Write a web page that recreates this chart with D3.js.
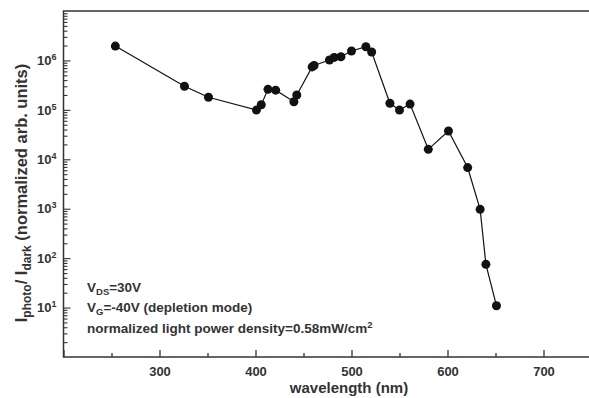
<!DOCTYPE html>
<html>
<head>
<meta charset="utf-8">
<script src="https://cdn.jsdelivr.net/npm/d3@7"></script>
<style>
  body { margin: 0; background: #fff; }
  svg { display: block; font-family: "Liberation Sans", Arial, sans-serif; }
</style>
</head>
<body>
<svg id="chart" width="589" height="398"></svg>
<script>
// wavelength (nm) and normalized photo/dark current ratio
const wavelength = [254, 326, 351, 401, 406, 413, 421, 440, 443, 459, 461, 477, 482, 489, 500, 515, 521, 540, 550, 561, 580, 601, 621, 634, 640, 651];
const ratio = [1.95e6, 3.0e5, 1.8e5, 9.9e4, 1.27e5, 2.6e5, 2.5e5, 1.46e5, 2.0e5, 7.4e5, 7.9e5, 1.02e6, 1.15e6, 1.19e6, 1.55e6, 1.89e6, 1.48e6, 1.36e5, 9.9e4, 1.31e5, 1.59e4, 3.73e4, 6.8e3, 970, 75, 10.9];

const xMajor = [200, 300, 400, 500, 600, 700, 800];
const xMinor = [250, 350, 450, 550, 650, 750];
const xLabels = [300, 400, 500, 600, 700];
const yMajor = [1e1, 1e2, 1e3, 1e4, 1e5, 1e6];
const yLabels = ["1", "2", "3", "4", "5", "6"];

const ink = "#333";
const mLeft = 63.5, mTop = 11, mRight = 639.5, mBottom = 357;

const svg = d3.select("#chart");

const x = d3.scaleLinear().domain([200, 800]).range([mLeft, mRight]);
const y = d3.scaleLog().domain([1, 1e7]).range([mBottom, mTop]);

// minor log ticks 2..9 for each decade
const yMinor = [];
for (let e = 0; e < 7; e++) {
  for (let m = 2; m <= 9; m++) yMinor.push(m * Math.pow(10, e));
}

// frame (right side runs off the picture)
svg.append("rect")
  .attr("x", mLeft).attr("y", mTop)
  .attr("width", mRight - mLeft).attr("height", mBottom - mTop)
  .attr("fill", "none").attr("stroke", ink).attr("stroke-width", 1.5);

// x axis
const xg = svg.append("g").attr("transform", `translate(0,${mBottom})`);
xg.call(d3.axisBottom(x).tickValues(xMinor).tickSize(-4).tickFormat(""));
xg.append("g").call(d3.axisBottom(x).tickValues(xMajor).tickSize(-7).tickPadding(10)
  .tickFormat((d) => (xLabels.includes(d) ? d : "")));
xg.selectAll(".domain").remove();
xg.selectAll("line").attr("stroke", ink).attr("stroke-width", 1.3);
xg.selectAll("text")
  .attr("fill", ink).attr("font-size", 13).attr("font-weight", "bold")
  .attr("font-family", "Liberation Sans, Arial, sans-serif");

// y axis
const yg = svg.append("g").attr("transform", `translate(${mLeft},0)`);
yg.call(d3.axisLeft(y).tickValues(yMinor).tickSize(-4).tickFormat(""));
const ygMaj = yg.append("g");
ygMaj.call(d3.axisLeft(y).tickValues(yMajor).tickSize(-7).tickPadding(7).tickFormat(""));
yg.selectAll(".domain").remove();
yg.selectAll("line").attr("stroke", ink).attr("stroke-width", 1.1);

ygMaj.selectAll(".tick").each(function (d, i) {
  const t = d3.select(this).select("text")
    .attr("fill", ink).attr("font-size", 13).attr("font-weight", "bold")
    .attr("font-family", "Liberation Sans, Arial, sans-serif");
  t.append("tspan").text("10");
  t.append("tspan").attr("dy", -5).attr("font-size", 9).text(yLabels[i]);
});

// line and markers
const line = d3.line().x((d, i) => x(wavelength[i])).y((d) => y(d));
svg.append("path")
  .datum(ratio)
  .attr("d", line)
  .attr("fill", "none").attr("stroke", "#111").attr("stroke-width", 1.2);

svg.selectAll(".pt")
  .data(ratio)
  .enter()
  .append("circle")
  .classed("pt", true)
  .attr("cx", (d, i) => x(wavelength[i]))
  .attr("cy", (d) => y(d))
  .attr("r", 4.5)
  .attr("fill", "#111");

// axis titles
svg.append("text")
  .attr("x", 349).attr("y", 393)
  .attr("text-anchor", "middle")
  .attr("font-size", 15).attr("font-weight", "bold").attr("fill", ink)
  .text("wavelength (nm)");

const yt = svg.append("text")
  .attr("transform", "translate(27,193) rotate(-90)")
  .attr("text-anchor", "middle")
  .attr("font-size", 16.5).attr("font-weight", "bold").attr("fill", ink);
yt.append("tspan").text("I");
yt.append("tspan").attr("dy", 4).attr("font-size", 12).text("photo");
yt.append("tspan").attr("dy", -4).text("/ I");
yt.append("tspan").attr("dy", 4).attr("font-size", 12).text("dark");
yt.append("tspan").attr("dy", -4).text(" (normalized arb. units)");

// annotation
const note = svg.append("g")
  .attr("font-size", 13.5).attr("font-weight", "bold").attr("fill", ink);
const n1 = note.append("text").attr("x", 87).attr("y", 292);
n1.append("tspan").text("V");
n1.append("tspan").attr("dy", 3).attr("font-size", 9.5).text("DS");
n1.append("tspan").attr("dy", -3).text("=30V");
const n2 = note.append("text").attr("x", 87).attr("y", 312);
n2.append("tspan").text("V");
n2.append("tspan").attr("dy", 3).attr("font-size", 9.5).text("G");
n2.append("tspan").attr("dy", -3).text("=-40V (depletion mode)");
const n3 = note.append("text").attr("x", 87).attr("y", 333);
n3.append("tspan").text("normalized light power density=0.58mW/cm");
n3.append("tspan").attr("dy", -5).attr("font-size", 9.5).text("2");
</script>
</body>
</html>
